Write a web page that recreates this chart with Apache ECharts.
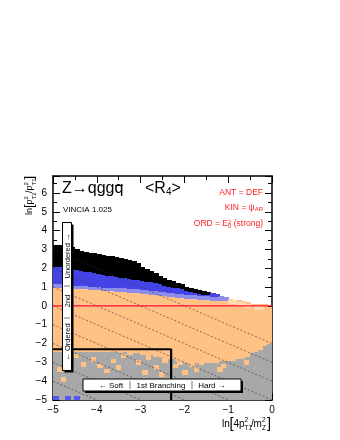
<!DOCTYPE html>
<html>
<head>
<meta charset="utf-8">
<script src="https://cdn.jsdelivr.net/npm/echarts@6/dist/echarts.min.js"></script>
<style>
html, body { margin: 0; padding: 0; background: #fff; }
#chart { width: 340px; height: 440px; }
</style>
</head>
<body>
<div id="chart"></div>
<script>
// left edge of each column, bin width 0.1
const colLeft = [-5.0,-4.9,-4.8,-4.7,-4.6,-4.5,-4.4,-4.3,-4.2,-4.1,
                 -4.0,-3.9,-3.8,-3.7,-3.6,-3.5,-3.4,-3.3,-3.2,-3.1,
                 -3.0,-2.9,-2.8,-2.7,-2.6,-2.5,-2.4,-2.3,-2.2,-2.1,
                 -2.0,-1.9,-1.8,-1.7,-1.6,-1.5,-1.4,-1.3,-1.2,-1.1,
                 -1.0,-0.9,-0.8,-0.7,-0.6,-0.5,-0.4,-0.3,-0.2,-0.1];
const binW = 0.1;

// top of the filled region per column
const topEdge = [3.2,3.2,3.2,3.15,3.1,3.0,2.9,2.85,2.8,2.8,
                 2.75,2.7,2.65,2.6,2.55,2.5,2.45,2.4,2.35,2.25,
                 2.05,1.95,1.85,1.7,1.55,1.45,1.35,1.3,1.2,1.15,
                 1.0,0.95,0.85,0.8,0.75,0.7,0.65,0.6,0.5,0.45,
                 0.35,0.3,0.3,0.25,0.2,0.1,0.1,0.05,0.05,-0.1];
// black / blue boundary
const blackLow = [2.1,2.1,2.1,2.1,2.0,1.95,1.9,1.85,1.8,1.75,
                  1.7,1.65,1.6,1.6,1.55,1.5,1.5,1.45,1.4,1.4,
                  1.35,1.3,1.3,1.25,1.2,1.1,1.05,1.0,0.95,0.9,
                  0.8,0.75,0.7,0.65,0.6,0.6,0.65,0.6,0.5,0.45,
                  0.35,0.3,0.3,0.25,0.2,0.1,0.1,0.05,0.05,-0.1];
// blue / orange boundary
const blueLow = [1.0,1.0,1.0,0.95,0.95,0.9,0.9,0.9,0.85,0.85,
                 0.85,0.8,0.8,0.8,0.75,0.75,0.75,0.7,0.7,0.7,
                 0.65,0.65,0.6,0.6,0.55,0.55,0.5,0.5,0.45,0.45,
                 0.4,0.4,0.4,0.35,0.35,0.35,0.3,0.3,0.3,0.3,
                 0.35,0.3,0.3,0.25,0.2,0.1,0.1,0.05,0.05,-0.1];
// orange / gray boundary
const grayTop = [-2.4,-2.4,-2.4,-2.4,-2.4,-2.4,-2.4,-2.4,-2.4,-2.4,
                 -2.4,-2.4,-2.4,-2.4,-2.4,-2.5,-2.4,-2.5,-2.5,-2.5,
                 -2.6,-2.6,-2.6,-2.7,-2.7,-2.8,-2.8,-2.8,-2.9,-2.9,
                 -3.0,-3.0,-3.0,-3.0,-3.0,-3.0,-3.0,-3.0,-2.9,-2.9,
                 -2.9,-2.9,-2.8,-2.8,-2.7,-2.5,-2.4,-2.3,-2.1,-2.0];
// orange cells inside the gray region
const orangeSpots = [[-4.46,-2.66],[-4.31,-3.10],[-4.08,-2.84],[-3.93,-3.19],[-3.77,-3.46],
                     [-3.62,-2.93],[-3.51,-3.28],[-3.39,-2.66],[-4.84,-3.37],[-4.76,-3.9],
                     [-3.24,-2.5],[-3.05,-3.01],[-2.82,-2.75],[-2.63,-3.28],[-2.44,-2.93],
                     [-2.21,-3.19],[-2.10,-3.01],[-1.99,-3.55],[-1.83,-3.10],[-1.72,-3.37],
                     [-1.61,-3.01],[-2.90,-3.55],[-2.52,-3.63],[-1.19,-3.37],[-1.11,-3.19],
                     [-0.58,-3.0]];
// pale cells at the top right of the orange band
const paleSpots = [[-0.95,0.2],[-0.85,0.2],[-0.75,0.1],[-0.65,0.1],[-0.55,0.0],[-0.35,-0.1],[-0.25,-0.1]];
// blue cells at the bottom edge
const blueSpots = [[-4.93,-4.9],[-4.66,-4.9],[-4.45,-4.9]];
// dotted guide lines x + y = c
const guideLevels = [-2,-3,-4,-5,-6,-7,-8,-9];
const cutValue = -2.303; // ln(0.1)

const palette = ['#a8a8a8', '#ffc184', '#4444e6', '#8c8cea', '#000000', '#5656f0', '#ffdcb2'];

let cells = [];
for (let i = 0; i < colLeft.length; i++) {
  let x0 = colLeft[i], x1 = x0 + binW;
  cells.push([x0, x1, -5, grayTop[i], 0]);
  cells.push([x0, x1, grayTop[i], blueLow[i], 1]);
  if (blackLow[i] > blueLow[i]) {
    let mid = Math.min(blueLow[i] + 0.2, blackLow[i]);
    cells.push([x0, x1, blueLow[i], mid, 3]);
    if (blackLow[i] > mid) cells.push([x0, x1, mid, blackLow[i], 2]);
  }
  if (topEdge[i] > blackLow[i]) cells.push([x0, x1, blackLow[i], topEdge[i], 4]);
}
orangeSpots.forEach(s => cells.push([s[0] - 0.05, s[0] + 0.05, s[1] - 0.1, s[1] + 0.1, 1]));
paleSpots.forEach(s => cells.push([s[0] - 0.05, s[0] + 0.05, s[1] - 0.1, s[1] + 0.1, 6]));
blueSpots.forEach(s => cells.push([s[0] - 0.05, s[0] + 0.05, s[1] - 0.1, s[1] + 0.1, 5]));

function renderCell(params, api) {
  let p0 = api.coord([api.value(0), api.value(3)]);
  let p1 = api.coord([api.value(1), api.value(2)]);
  let x = Math.floor(p0[0]), y = Math.floor(p0[1]);
  return {
    type: 'rect',
    shape: { x: x, y: y, width: Math.ceil(p1[0]) - x, height: Math.ceil(p1[1]) - y },
    style: { fill: palette[api.value(4)] }
  };
}

let guideSeries = guideLevels.map(c => {
  let xEnd = Math.min(0, c + 5);
  return {
    type: 'line', data: [[-5, c + 5], [xEnd, c - xEnd]], symbol: 'none', silent: true, z: 3,
    lineStyle: { color: '#333', width: 0.6, type: [2, 2] }
  };
});

const FONT = 'Liberation Sans';
const minus = v => String(v).replace('-', '\u2212');

function axisX(pos, labels) {
  return {
    type: 'value', position: pos, min: -5, max: 0, interval: 1,
    axisLine: { show: true, onZero: false, lineStyle: { color: '#000', width: 1.5 } },
    axisTick: { show: true, inside: true, length: 7, lineStyle: { color: '#000' } },
    minorTick: { show: true, splitNumber: 2, length: 4, lineStyle: { color: '#000' } },
    splitLine: { show: false },
    axisLabel: { show: labels, fontSize: 10, color: '#000', fontFamily: FONT, margin: 5, formatter: minus }
  };
}
function axisY(pos, labels) {
  return {
    type: 'value', position: pos, min: -5, max: 6.9, interval: 1,
    axisLine: { show: true, onZero: false, lineStyle: { color: '#000', width: 1.5 } },
    axisTick: { show: true, inside: true, length: 7, lineStyle: { color: '#000' } },
    minorTick: { show: true, splitNumber: 2, length: 4, lineStyle: { color: '#000' } },
    splitLine: { show: false },
    axisLabel: { show: labels, fontSize: 10, color: '#000', fontFamily: FONT, margin: 6,
                 showMaxLabel: false, formatter: minus }
  };
}

function txt(x, y, s, size) {
  return { type: 'text', x: x, y: y, z: 20,
    style: { text: s, font: size + 'px ' + FONT, fill: '#000', align: 'left', verticalAlign: 'bottom' } };
}

// y axis title, drawn along the reading direction then rotated
let yTitle = {
  type: 'group', x: 32, y: 215, rotation: Math.PI / 2, z: 20,
  children: [
    txt(0, 2, 'ln', 9), txt(7, 4, '[', 13), txt(10.5, 2, 'p', 9),
    txt(15.5, -3, '2', 6), txt(15.5, 5, 'T2', 6), txt(22, 2, '/', 9),
    txt(24.5, 2, 'p', 9), txt(29.5, -3, '2', 6), txt(29.5, 5, 'T1', 6), txt(35.5, 4, ']', 13)
  ]
};
let xTitle = {
  type: 'group', x: 222, y: 427, z: 20,
  children: [
    txt(0, 2, 'ln', 10), txt(7.5, 4, '[', 14.5), txt(11.5, 2, '4', 10), txt(17, 2, 'p', 10),
    txt(22.5, -3, '2', 6.5), txt(22.5, 5, 'T1', 6.5), txt(29, 2, '/', 10), txt(31.5, 2, 'm', 10),
    txt(40, -3, '2', 6.5), txt(40, 5, 'Z', 6.5), txt(45, 4, ']', 14.5)
  ]
};

let rich = {
  sub: { fontSize: 6, fontFamily: FONT, fill: '#ff2222', verticalAlign: 'bottom', padding: [4, 0, 0, 0] },
  sup: { fontSize: 6, fontFamily: FONT, fill: '#ff2222', verticalAlign: 'top', width: 0 },
  r: { fontSize: 8.5, fontFamily: FONT, fill: '#ff2222' }
};
function redText(y, s) {
  return { type: 'text', right: 77, top: y, z: 20,
    style: { text: s, rich: rich, font: '8.5px ' + FONT, fill: '#ff2222' } };
}

function centered(x, y, s, size, rot) {
  return { type: 'text', x: x, y: y, rotation: rot || 0, z: 22,
    style: { text: s, font: size + 'px ' + FONT, fill: '#000', align: 'center', verticalAlign: 'middle' } };
}
function box(x, y, w, h) {
  return [
    { type: 'rect', z: 21, shape: { x: x + 2, y: y + 2, width: w, height: h }, style: { fill: '#000' } },
    { type: 'rect', z: 21, shape: { x: x, y: y, width: w, height: h }, style: { fill: '#fff', stroke: '#000', lineWidth: 1 } }
  ];
}
function sep(x1, y1, x2, y2) {
  return { type: 'line', z: 22, shape: { x1: x1, y1: y1, x2: x2, y2: y2 }, style: { stroke: '#555', lineWidth: 0.8 } };
}

// vertical label box
let vBox = box(62.5, 222.5, 9, 148).concat([
  sep(64, 318, 70, 318), sep(64, 286, 70, 286),
  centered(67.5, 342, '\u2190 Ordered', 7.5, Math.PI / 2),
  centered(67.5, 301, '2nd', 7.5, Math.PI / 2),
  centered(67.5, 256, 'Unordered \u2192', 7.5, Math.PI / 2)
]);
// horizontal label box
let hBox = box(83, 379, 158, 12).concat([
  sep(130, 381, 130, 389), sep(192, 381, 192, 389),
  centered(111, 385.5, '\u2190 Soft', 8),
  centered(161, 385.5, '1st Branching', 8),
  centered(212, 385.5, 'Hard \u2192', 8)
]);

// title: place the anti-quark and its bar after the measured prefix
const titleFont = '16px ' + FONT;
let ctx = document.createElement('canvas').getContext('2d');
ctx.font = titleFont;
let prefixW = ctx.measureText('Z\u2192qgg').width;
let qW = ctx.measureText('q').width;
let title = [
  { type: 'text', x: 62, y: 181, z: 20, style: { text: 'Z\u2192qgg', font: titleFont, fill: '#000' } },
  { type: 'text', x: 62 + prefixW, y: 181, z: 20, style: { text: 'q', font: titleFont, fill: '#000' } },
  { type: 'line', z: 20, shape: { x1: 62 + prefixW + 0.5, y1: 185.5, x2: 62 + prefixW + qW - 0.5, y2: 185.5 },
    style: { stroke: '#000', lineWidth: 1 } }
];

let chart = echarts.init(document.getElementById('chart'));
chart.setOption({
  animation: false,
  backgroundColor: '#fff',
  grid: { left: 53, right: 68, top: 176, bottom: 40 },
  xAxis: [axisX('bottom', true), axisX('top', false)],
  yAxis: [axisY('left', true), axisY('right', false)],
  series: [
    { type: 'custom', renderItem: renderCell, data: cells, clip: true, silent: true, z: 1,
      encode: { x: [0, 1], y: [2, 3] } },
    ...guideSeries,
    { type: 'line', data: [[-5, 0], [0, 0]], symbol: 'none', silent: true, z: 4,
      lineStyle: { color: '#ff0a3c', width: 1.3 } },
    { type: 'line', data: [[-5, cutValue], [cutValue, cutValue], [cutValue, -5]], symbol: 'none', silent: true, z: 5,
      lineStyle: { color: '#000', width: 2.2 } }
  ],
  graphic: title.concat([
    { type: 'text', x: 145, y: 181, z: 20,
      style: { text: '<R{s|4}>', font: titleFont, fill: '#000',
               rich: { s: { fontSize: 10, fontFamily: FONT, verticalAlign: 'bottom', padding: [6, 0, 0, 0] } } } },
    { type: 'text', x: 63, y: 206, z: 20, style: { text: 'VINCIA 1.025', font: '8px ' + FONT, fill: '#000' } },
    redText(188, '{r|ANT = DEF}'),
    redText(203, '{r|KIN = \u03c8}{sub|AR}'),
    redText(219, '{r|ORD = E}{sup|2}{sub|0}{r| (strong)}'),
    yTitle, xTitle
  ], vBox, hBox)
});
</script>
</body>
</html>
